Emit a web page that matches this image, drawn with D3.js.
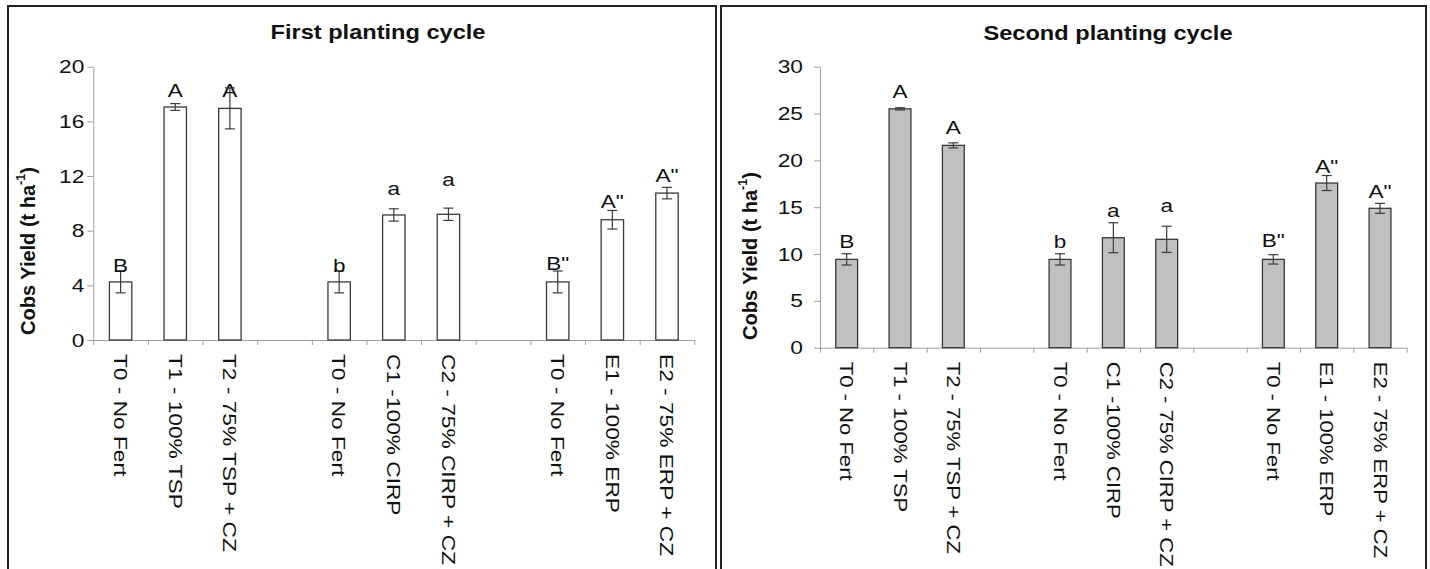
<!DOCTYPE html>
<html>
<head>
<meta charset="utf-8">
<script src="https://cdn.jsdelivr.net/npm/d3@7"></script>
<style>
  html, body { margin: 0; padding: 0; background: #fff; }
  svg { display: block; font-family: "Liberation Sans", Arial, sans-serif; }
</style>
</head>
<body>
<svg id="chart" width="1430" height="569"></svg>
<script>
// ---------- data ----------
const categories = ["T0 - No Fert", "T1 - 100% TSP", "T2 - 75% TSP + CZ", "",
                    "T0 - No Fert", "C1 -100% CIRP", "C2 - 75% CIRP + CZ", "",
                    "T0 - No Fert", "E1 - 100% ERP", "E2 - 75% ERP + CZ"];
const letters = ["B", "A", "A", "", "b", "a", "a", "", "B\"", "A\"", "A\""];

const firstValues  = [4.25, 17.05, 16.95, null, 4.25, 9.15, 9.2, null, 4.25, 8.8, 10.75];
const firstErrors  = [0.8, 0.25, 1.5, null, 0.8, 0.45, 0.45, null, 0.8, 0.68, 0.42];
const firstLetterLevels = [5.49, 18.29, 18.29, null, 5.49, 11.12, 11.78, null, 5.63, 10.17, 12.02];
const firstTicks = [0, 4, 8, 12, 16, 20];

const secondValues = [9.43, 25.5, 21.6, null, 9.43, 11.74, 11.57, null, 9.43, 17.58, 14.88];
const secondErrors = [0.6, 0.12, 0.27, null, 0.6, 1.6, 1.4, null, 0.5, 0.8, 0.53];
const secondLetterLevels = [11.31, 27.4, 23.48, null, 11.31, 14.62, 15.23, null, 11.42, 19.42, 16.65];
const secondTicks = [0, 5, 10, 15, 20, 25, 30];

const titles = ["First planting cycle", "Second planting cycle"];
const yTitle = ["Cobs Yield (t ha", "-1", ")"];

// ---------- drawing ----------
const svg = d3.select("#chart");
const AXIS = "#a0a0a0", INK = "#111", BAR = "#3a3a3a";

function drawPanel(c) {
  const g = svg.append("g");
  // frame
  g.append("path")
    .attr("d", `M${c.fx0},575 V${c.fy} H${c.fx1} V575`)
    .attr("fill", "none").attr("stroke", "#222").attr("stroke-width", 2);

  const x = d3.scaleBand().domain(d3.range(categories.length))
    .range([c.left, c.right]).paddingInner(0).paddingOuter(0);
  const xb = d3.scaleLinear().domain([0, categories.length]).range([c.left, c.right]);
  const y = d3.scaleLinear().domain([0, c.yMax]).range([c.bottom, c.top]);

  // y axis
  const ya = g.append("g").attr("transform", `translate(${c.left},0)`)
    .call(d3.axisLeft(y).tickValues(c.ticks).tickSize(6).tickSizeOuter(0).tickFormat(d3.format("d")));
  ya.select(".domain").attr("stroke", AXIS);
  ya.selectAll(".tick line").attr("stroke", AXIS);
  ya.selectAll(".tick text")
    .attr("x", null).attr("dy", null)
    .attr("fill", INK).attr("font-size", 17.5)
    .attr("dominant-baseline", "central")
    .attr("transform", `translate(${-c.tickGap},0) scale(1.3,1)`);

  // x axis
  const xa = g.append("g").attr("transform", `translate(0,${c.bottom})`)
    .call(d3.axisBottom(xb).tickValues(d3.range(categories.length + 1)).tickSize(5).tickSizeOuter(0).tickFormat(""));
  xa.select(".domain").attr("stroke", AXIS);
  xa.selectAll(".tick line").attr("stroke", AXIS);

  const idx = d3.range(categories.length).filter(i => c.values[i] != null);
  const bw = x.bandwidth() * 0.41;

  // bars
  g.selectAll("rect.bar").data(idx).join("rect")
    .attr("x", i => x(i) + (x.bandwidth() - bw) / 2)
    .attr("y", i => y(c.values[i]))
    .attr("width", bw)
    .attr("height", i => y(0) - y(c.values[i]))
    .attr("fill", c.fill).attr("stroke", BAR).attr("stroke-width", 1.3);

  // error bars
  const eb = g.selectAll("g.err").data(idx).join("g")
    .attr("stroke", BAR).attr("stroke-width", 1.2);
  eb.append("line")
    .attr("x1", i => x(i) + x.bandwidth() / 2).attr("x2", i => x(i) + x.bandwidth() / 2)
    .attr("y1", i => y(c.values[i] + c.errors[i])).attr("y2", i => y(c.values[i] - c.errors[i]));
  [1, -1].forEach(s => {
    eb.append("line")
      .attr("x1", i => x(i) + x.bandwidth() / 2 - 5).attr("x2", i => x(i) + x.bandwidth() / 2 + 5)
      .attr("y1", i => y(c.values[i] + s * c.errors[i])).attr("y2", i => y(c.values[i] + s * c.errors[i]));
  });

  // letters
  g.selectAll("text.letter").data(idx).join("text")
    .attr("transform", i => `translate(${x(i) + x.bandwidth() / 2},${y(c.letterLevels[i])}) scale(1.22,1)`)
    .attr("text-anchor", "middle").attr("dominant-baseline", "central")
    .attr("font-size", 18.5).attr("fill", INK)
    .text(i => letters[i]);

  // category labels (stretched so the longest one spans c.labelLen px)
  const cats = g.selectAll("text.cat").data(idx).join("text")
    .attr("text-anchor", "start").attr("dominant-baseline", "central")
    .attr("font-size", 18.5).attr("fill", INK)
    .text(i => categories[i]);
  const longest = d3.max(cats.nodes(), n => n.getComputedTextLength());
  const k = c.labelLen / longest;
  cats.attr("transform", i => `translate(${x(i) + x.bandwidth() / 2},${c.bottom + c.labelGap}) rotate(90) scale(${k},1)`);

  // title
  g.append("text")
    .attr("transform", `translate(${c.titleX},${c.titleY}) scale(1.18,1)`)
    .attr("text-anchor", "middle").attr("font-weight", "bold")
    .attr("font-size", 20).attr("fill", INK)
    .text(c.title);

  // y title
  const yt = g.append("text")
    .attr("transform", `translate(${c.yTitleX},${c.yTitleY}) rotate(-90)`)
    .attr("text-anchor", "middle").attr("dominant-baseline", "central")
    .attr("font-weight", "bold").attr("font-size", 20).attr("fill", INK);
  yt.append("tspan").text(yTitle[0]);
  yt.append("tspan").attr("font-size", 12.5).attr("dy", -7).text(yTitle[1]);
  yt.append("tspan").attr("dy", 7).text(yTitle[2]);
}

drawPanel({
  fx0: 8, fx1: 716, fy: 6,
  left: 93.3, right: 694.3, bottom: 340, top: 66.7, yMax: 20, ticks: firstTicks,
  values: firstValues, errors: firstErrors, letterLevels: firstLetterLevels,
  fill: "#ffffff", title: titles[0], titleX: 378, titleY: 38.5,
  yTitleX: 28, yTitleY: 251, tickGap: 9, labelGap: 14, labelLen: 211
});
drawPanel({
  fx0: 721, fx1: 1426, fy: 6,
  left: 820, right: 1406.7, bottom: 347.7, top: 66.7, yMax: 30, ticks: secondTicks,
  values: secondValues, errors: secondErrors, letterLevels: secondLetterLevels,
  fill: "#c0c0c0", title: titles[1], titleX: 1108, titleY: 39.5,
  yTitleX: 750, yTitleY: 256, tickGap: 17, labelGap: 14, labelLen: 205
});
</script>
</body>
</html>
